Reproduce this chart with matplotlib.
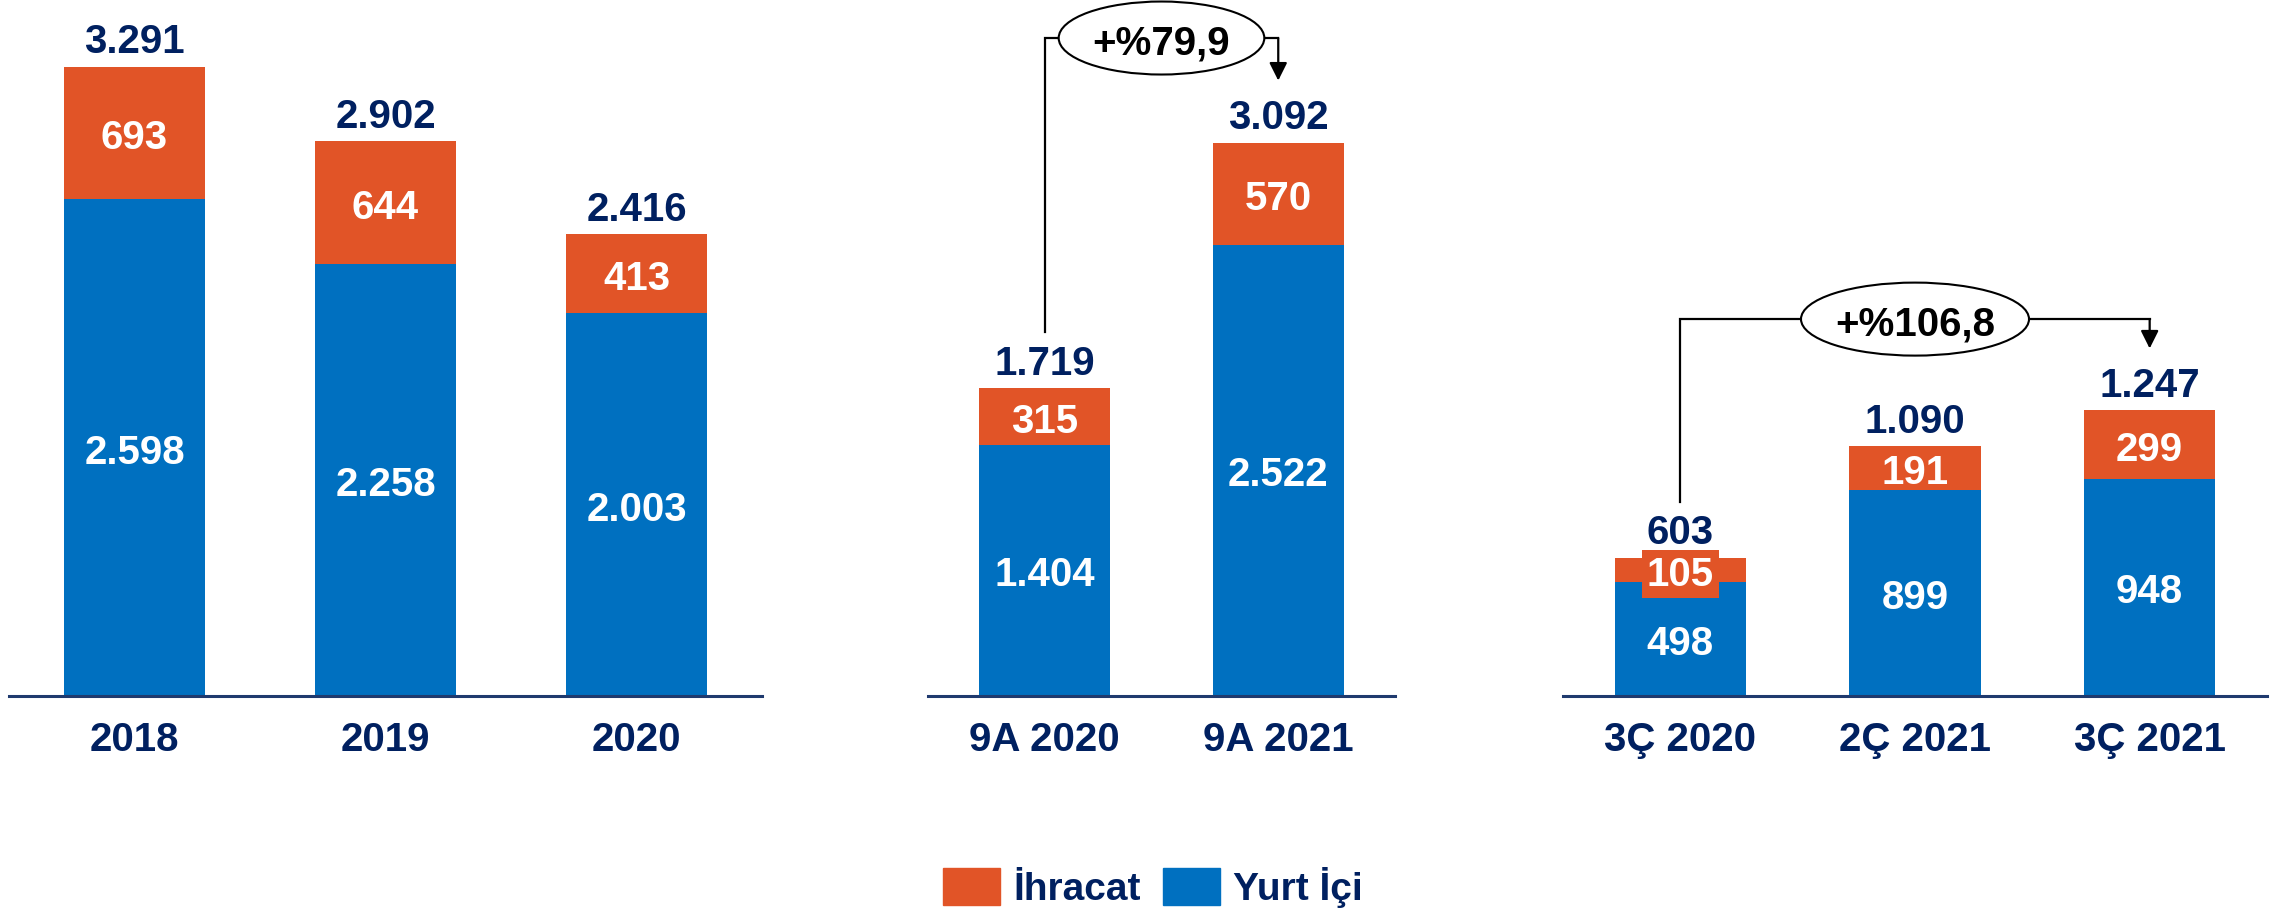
import matplotlib
matplotlib.use("Agg")
import matplotlib.pyplot as plt
from matplotlib.patches import Patch, Ellipse

# Panel 1 - annual figures
years = ['2018', '2019', '2020']
years_export = [693, 644, 413]
years_domestic = [2598, 2258, 2003]
years_total = [3291, 2902, 2416]

# Panel 2 - nine month figures
nine_months = ['9A 2020', '9A 2021']
nine_export = [315, 570]
nine_domestic = [1404, 2522]
nine_total = [1719, 3092]

# Panel 3 - quarterly figures
quarters = ['3Ç 2020', '2Ç 2021', '3Ç 2021']
quarter_export = [105, 191, 299]
quarter_domestic = [498, 899, 948]
quarter_total = [603, 1090, 1247]

growth_labels = ['+%79,9', '+%106,8']

# Colours
ORANGE = '#E15427'
BLUE = '#0070C0'
NAVY = '#002060'
AXIS_NAVY = '#1F3A6E'

W, H = 2272, 912
AX_H = 697  # pixel height of the plotting area above the baseline
plt.rcParams['font.family'] = ['Liberation Sans', 'DejaVu Sans']
plt.rcParams['font.weight'] = 'bold'
FS = 29


def fmt(v):
    return f"{v:,}".replace(',', '.')


def draw_panel(ax, cats, domestic, export, totals, ymax, width=0.56):
    x = list(range(len(cats)))
    ax.bar(x, domestic, width, color=BLUE, zorder=2)
    ax.bar(x, export, width, bottom=domestic, color=ORANGE, zorder=2)
    for i in x:
        ax.text(i, domestic[i] / 2, fmt(domestic[i]), ha='center',
                va='center_baseline', color='white', fontsize=FS,
                fontweight='bold', zorder=3)
        # thin segments get an orange box behind the label
        box = None
        if export[i] / ymax * AX_H < 36:
            box = dict(boxstyle='square,pad=0.12', fc=ORANGE, ec='none')
        ax.text(i, domestic[i] + export[i] / 2, fmt(export[i]), ha='center',
                va='center_baseline', color='white', fontsize=FS,
                fontweight='bold', zorder=3, bbox=box)
        ax.annotate(fmt(totals[i]), xy=(i, totals[i]), xytext=(0, 10.5),
                    textcoords='offset points', ha='center', va='baseline',
                    color=NAVY, fontsize=FS, fontweight='bold')
    ax.set_xlim(-0.5, len(cats) - 0.5)
    ax.set_ylim(0, ymax)
    ax.set_xticks(x)
    ax.set_xticklabels(cats, fontsize=FS, fontweight='bold', color=NAVY)
    ax.tick_params(axis='x', length=0, pad=17)
    ax.set_yticks([])
    for side in ['top', 'left', 'right']:
        ax.spines[side].set_visible(False)
    ax.spines['bottom'].set_color(AXIS_NAVY)
    ax.spines['bottom'].set_linewidth(2.2)
    ax.patch.set_alpha(0)


def draw_growth(ov, ax, i0, i1, totals, bracket_y, label, renderer):
    # convert bar tops to pixel coordinates of the overlay
    x0, y0 = ax.transData.transform((i0, totals[i0]))
    x1, y1 = ax.transData.transform((i1, totals[i1]))
    _, yb = ax.transData.transform((0, bracket_y))
    xm = (x0 + x1) / 2
    ov.plot([x0, x0, x1], [y0 + 56, yb, yb], color='black', lw=1.6,
            solid_joinstyle='miter', zorder=2)
    ov.annotate('', xy=(x1, y1 + 62), xytext=(x1, yb),
                arrowprops=dict(arrowstyle='-|>', color='black', lw=1.6,
                                mutation_scale=27, shrinkA=0, shrinkB=0),
                zorder=2)
    t = ov.text(xm, yb, label, ha='center', va='center_baseline',
                fontsize=FS, fontweight='bold', color='black', zorder=5)
    tw = t.get_window_extent(renderer=renderer).width
    ov.add_patch(Ellipse((xm, yb), tw + 68, 73, fc='white', ec='black',
                         lw=1.5, zorder=4))


fig = plt.figure(figsize=(W / 100, H / 100), dpi=100)
base = (H - AX_H) / H
top = AX_H / H
ax1 = fig.add_axes([9 / W, base, (762 - 9) / W, top])
ax2 = fig.add_axes([928 / W, base, (1395 - 928) / W, top])
ax3 = fig.add_axes([1563 / W, base, (2267 - 1563) / W, top])

draw_panel(ax1, years, years_domestic, years_export, years_total, 3647)
draw_panel(ax2, nine_months, nine_domestic, nine_export, nine_total, 3894)
draw_panel(ax3, quarters, quarter_domestic, quarter_export, quarter_total, 3044)

ov = fig.add_axes([0, 0, 1, 1])
ov.set_xlim(0, W)
ov.set_ylim(0, H)
ov.axis('off')
ov.patch.set_alpha(0)

renderer = fig.canvas.get_renderer()
draw_growth(ov, ax2, 0, 1, nine_total, 3676, growth_labels[0], renderer)
draw_growth(ov, ax3, 0, 2, quarter_total, 1646, growth_labels[1], renderer)

handles = [Patch(color=ORANGE, label='İhracat'), Patch(color=BLUE, label='Yurt İçi')]
fig.legend(handles=handles, loc='center', bbox_to_anchor=(1153 / W, 24 / H),
           ncol=2, frameon=False, prop={'size': 28, 'weight': 'bold'},
           handlelength=1.47, handleheight=1.08, handletextpad=0.33,
           columnspacing=0.57, labelcolor=NAVY)

fig.savefig('out.png', dpi=100)
